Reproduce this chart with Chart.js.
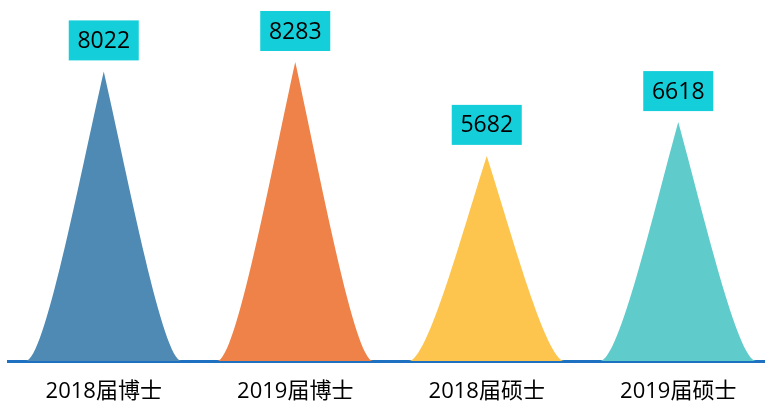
<!DOCTYPE html>
<html>
<head>
<meta charset="utf-8">
<script src="https://cdn.jsdelivr.net/npm/chart.js@4.4.1/dist/chart.umd.min.js"></script>
<style>
  html, body { margin: 0; padding: 0; background: #fff; overflow: hidden; }
  #wrap { width: 774px; height: 402px; position: relative; }
</style>
</head>
<body>
<div id="wrap"><canvas id="peakChart"></canvas></div>
<script>
// data
const categories = ['2018届博士', '2019届博士', '2018届硕士', '2019届硕士'];
const values = [8022, 8283, 5682, 6618];
const peakColors = ['#4E8AB3', '#EE8248', '#FDC44E', '#5FCBCA'];

const FONT = '"Open Sans", "Noto Sans CJK SC", sans-serif';

// draw each bar as a bell shaped "mountain" instead of a rectangle
const mountainPlugin = {
    id: 'mountains',
    beforeDatasetDraw(chart, args) {
        const ctx = chart.ctx;
        const meta = args.meta;
        ctx.save();
        meta.data.forEach((el, i) => {
            const hw = el.width / 2;
            const x = el.x, top = el.y, base = el.base;
            const h = base - top;
            ctx.beginPath();
            ctx.moveTo(x - hw, base);
            ctx.bezierCurveTo(x - 0.76 * hw, base, x - 0.32 * hw, top + 0.38 * h, x, top);
            ctx.bezierCurveTo(x + 0.32 * hw, top + 0.38 * h, x + 0.76 * hw, base, x + hw, base);
            ctx.closePath();
            ctx.fillStyle = el.options.backgroundColor;
            ctx.fill();
        });
        ctx.restore();
        return false;
    },
    afterDatasetsDraw(chart) {
        const ctx = chart.ctx;
        const meta = chart.getDatasetMeta(0);
        ctx.save();
        ctx.font = '23px ' + FONT;
        ctx.textAlign = 'center';
        ctx.textBaseline = 'middle';
        meta.data.forEach((el, i) => {
            const bw = 70, bh = 40;
            const bx = el.x - bw / 2, by = el.y - 11 - bh;
            ctx.fillStyle = '#14CED9';
            ctx.fillRect(bx, by, bw, bh);
            ctx.fillStyle = '#000';
            ctx.fillText(String(values[i]), el.x, by + bh / 2 + 1);
        });
        ctx.restore();
    }
};

new Chart(document.getElementById('peakChart'), {
    type: 'bar',
    data: {
        labels: categories,
        datasets: [{
            data: values,
            backgroundColor: peakColors,
            barPercentage: 0.815,
            categoryPercentage: 1
        }]
    },
    options: {
        responsive: true,
        maintainAspectRatio: false,
        animation: false,
        layout: { padding: { left: 8, right: 0, top: 0, bottom: -21 } },
        plugins: { legend: { display: false }, tooltip: { enabled: false } },
        scales: {
            x: {
                z: 1,
                grid: { display: false, drawTicks: false },
                border: { display: true, color: '#1E70C0', width: 3 },
                ticks: {
                    padding: 20,
                    color: '#000',
                    font: { family: FONT, size: 22, lineHeight: 1.0 }
                }
            },
            y: {
                display: false,
                min: 0,
                max: 10000
            }
        }
    },
    plugins: [mountainPlugin]
});
</script>
</body>
</html>
